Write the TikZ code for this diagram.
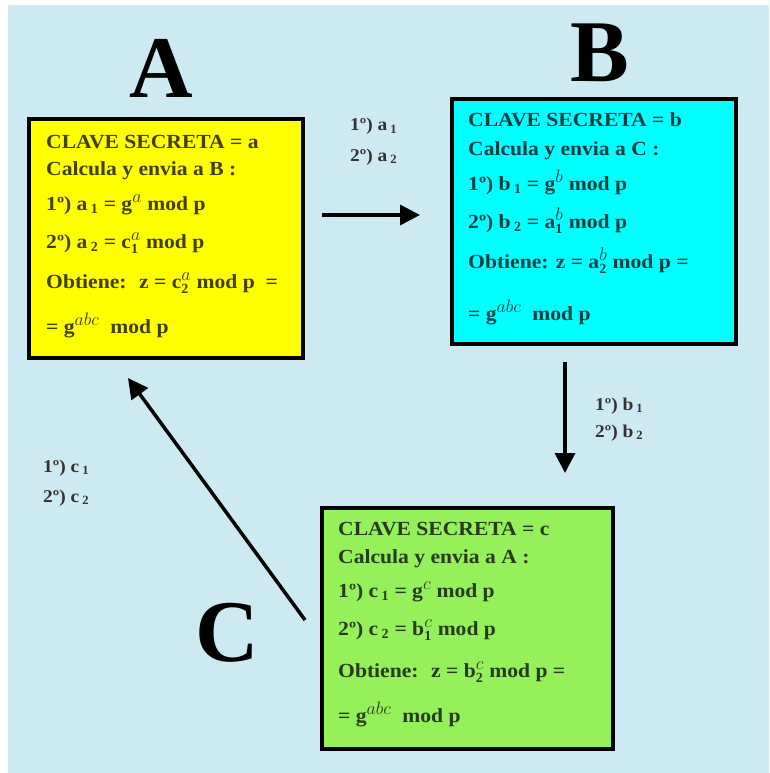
\documentclass[tikz,border=0pt]{standalone}
\usepackage{fontspec}
\setmainfont{Liberation Serif}
\newfontfamily\boxfont[FakeStretch=1.08]{Liberation Serif}
\usetikzlibrary{arrows.meta}

\definecolor{sky}{RGB}{205,233,242}
\definecolor{boxyellow}{RGB}{255,255,0}
\definecolor{boxcyan}{RGB}{0,255,255}
\definecolor{boxgreen}{RGB}{150,240,90}

\newcommand\idx[1]{\,$_{\mathbf{#1}}$}
\newcommand\pw[1]{$^{\scalebox{1.25}{$\scriptstyle #1$}}$}
\newcommand\pwidx[2]{$^{\scalebox{1.25}{$\scriptstyle #1$}}_{\mathbf{#2}}$}

\tikzset{
	party/.style={rectangle, draw=black, line width=3.5pt, inner sep=0pt},
	big/.style={font=\fontsize{88}{88}\selectfont\bfseries, anchor=base},
	line/.style={font=\boxfont\fontsize{20}{24}\selectfont\bfseries, anchor=base west, inner sep=0pt},
	sent/.style={font=\boxfont\fontsize{18}{20}\selectfont\bfseries, anchor=base west, inner sep=0pt, text=black!80},
	arr/.style={line width=3.5pt, -{Triangle[length=20pt,width=20pt]}},
}

\begin{document}
\begin{tikzpicture}[x=1pt, y=-1pt]
	\useasboundingbox (0,0) rectangle (769,773);
	\fill [sky] (8,5) rectangle (769,773);

	% the three parties
	\node [party, fill=boxyellow, minimum width=274pt, minimum height=239pt] (boxA) at (166,238.5) {};
	\node [party, fill=boxcyan, minimum width=284pt, minimum height=245pt] (boxB) at (594,221.5) {};
	\node [party, fill=boxgreen, minimum width=291pt, minimum height=241pt] (boxC) at (467.5,628.5) {};

	\node [big] (nameA) at (161,98) {A};
	\node [big] (nameB) at (600,82) {B};
	\node [big] (nameC) at (227,661) {C};

	% what each one computes
	\foreach \y/\t [count=\i] in {148/{CLAVE SECRETA = a}, 175/{Calcula y envia a B :},
		210/{1º) a\idx1 = g\pw{a} mod p}, 248/{2º) a\idx2 = c\pwidx{a}{1} mod p},
		288/{Obtiene:~ z = c\pwidx{a}{2} mod p~ =}, 333/{= g\pw{abc}~ mod p}}
		\node [line, text=boxyellow!25!black] (a\i) at (46,\y) {\t};
	\foreach \y/\t [count=\i] in {127/{CLAVE SECRETA = b}, 155/{Calcula y envia a C :},
		190/{1º) b\idx1 = g\pw{b} mod p}, 228/{2º) b\idx2 = a\pwidx{b}{1} mod p},
		268/{Obtiene: z = a\pwidx{b}{2} mod p =}, 320/{= g\pw{abc}~ mod p}}
		\node [line, text=boxcyan!25!black] (b\i) at (468,\y) {\t};
	\foreach \y/\t [count=\i] in {535/{CLAVE SECRETA = c}, 563/{Calcula y envia a A :},
		597/{1º) c\idx1 = g\pw{c} mod p}, 635/{2º) c\idx2 = b\pwidx{c}{1} mod p},
		677/{Obtiene:~ z = b\pwidx{c}{2} mod p =}, 722/{= g\pw{abc}~ mod p}}
		\node [line, text=boxgreen!25!black] (c\i) at (338,\y) {\t};

	% messages
	\coordinate (ab1) at (322,215);
	\coordinate (ab2) at (420,215);
	\coordinate (bc1) at (565,362);
	\coordinate (bc2) at (565,473);
	\coordinate (ca1) at (305,620);
	\coordinate (ca2) at (128,378);
	\draw [arr] (ab1) -- (ab2);
	\draw [arr] (bc1) -- (bc2);
	\draw [arr] (ca1) -- (ca2);

	\node [sent] (ma1) at (350,131) {1º) a\idx1};
	\node [sent] (ma2) at (350,161) {2º) a\idx2};
	\node [sent] (mb1) at (595,410) {1º) b\idx1};
	\node [sent] (mb2) at (595,437) {2º) b\idx2};
	\node [sent] (mc1) at (43,472) {1º) c\idx1};
	\node [sent] (mc2) at (43,502) {2º) c\idx2};
\end{tikzpicture}
\end{document}
